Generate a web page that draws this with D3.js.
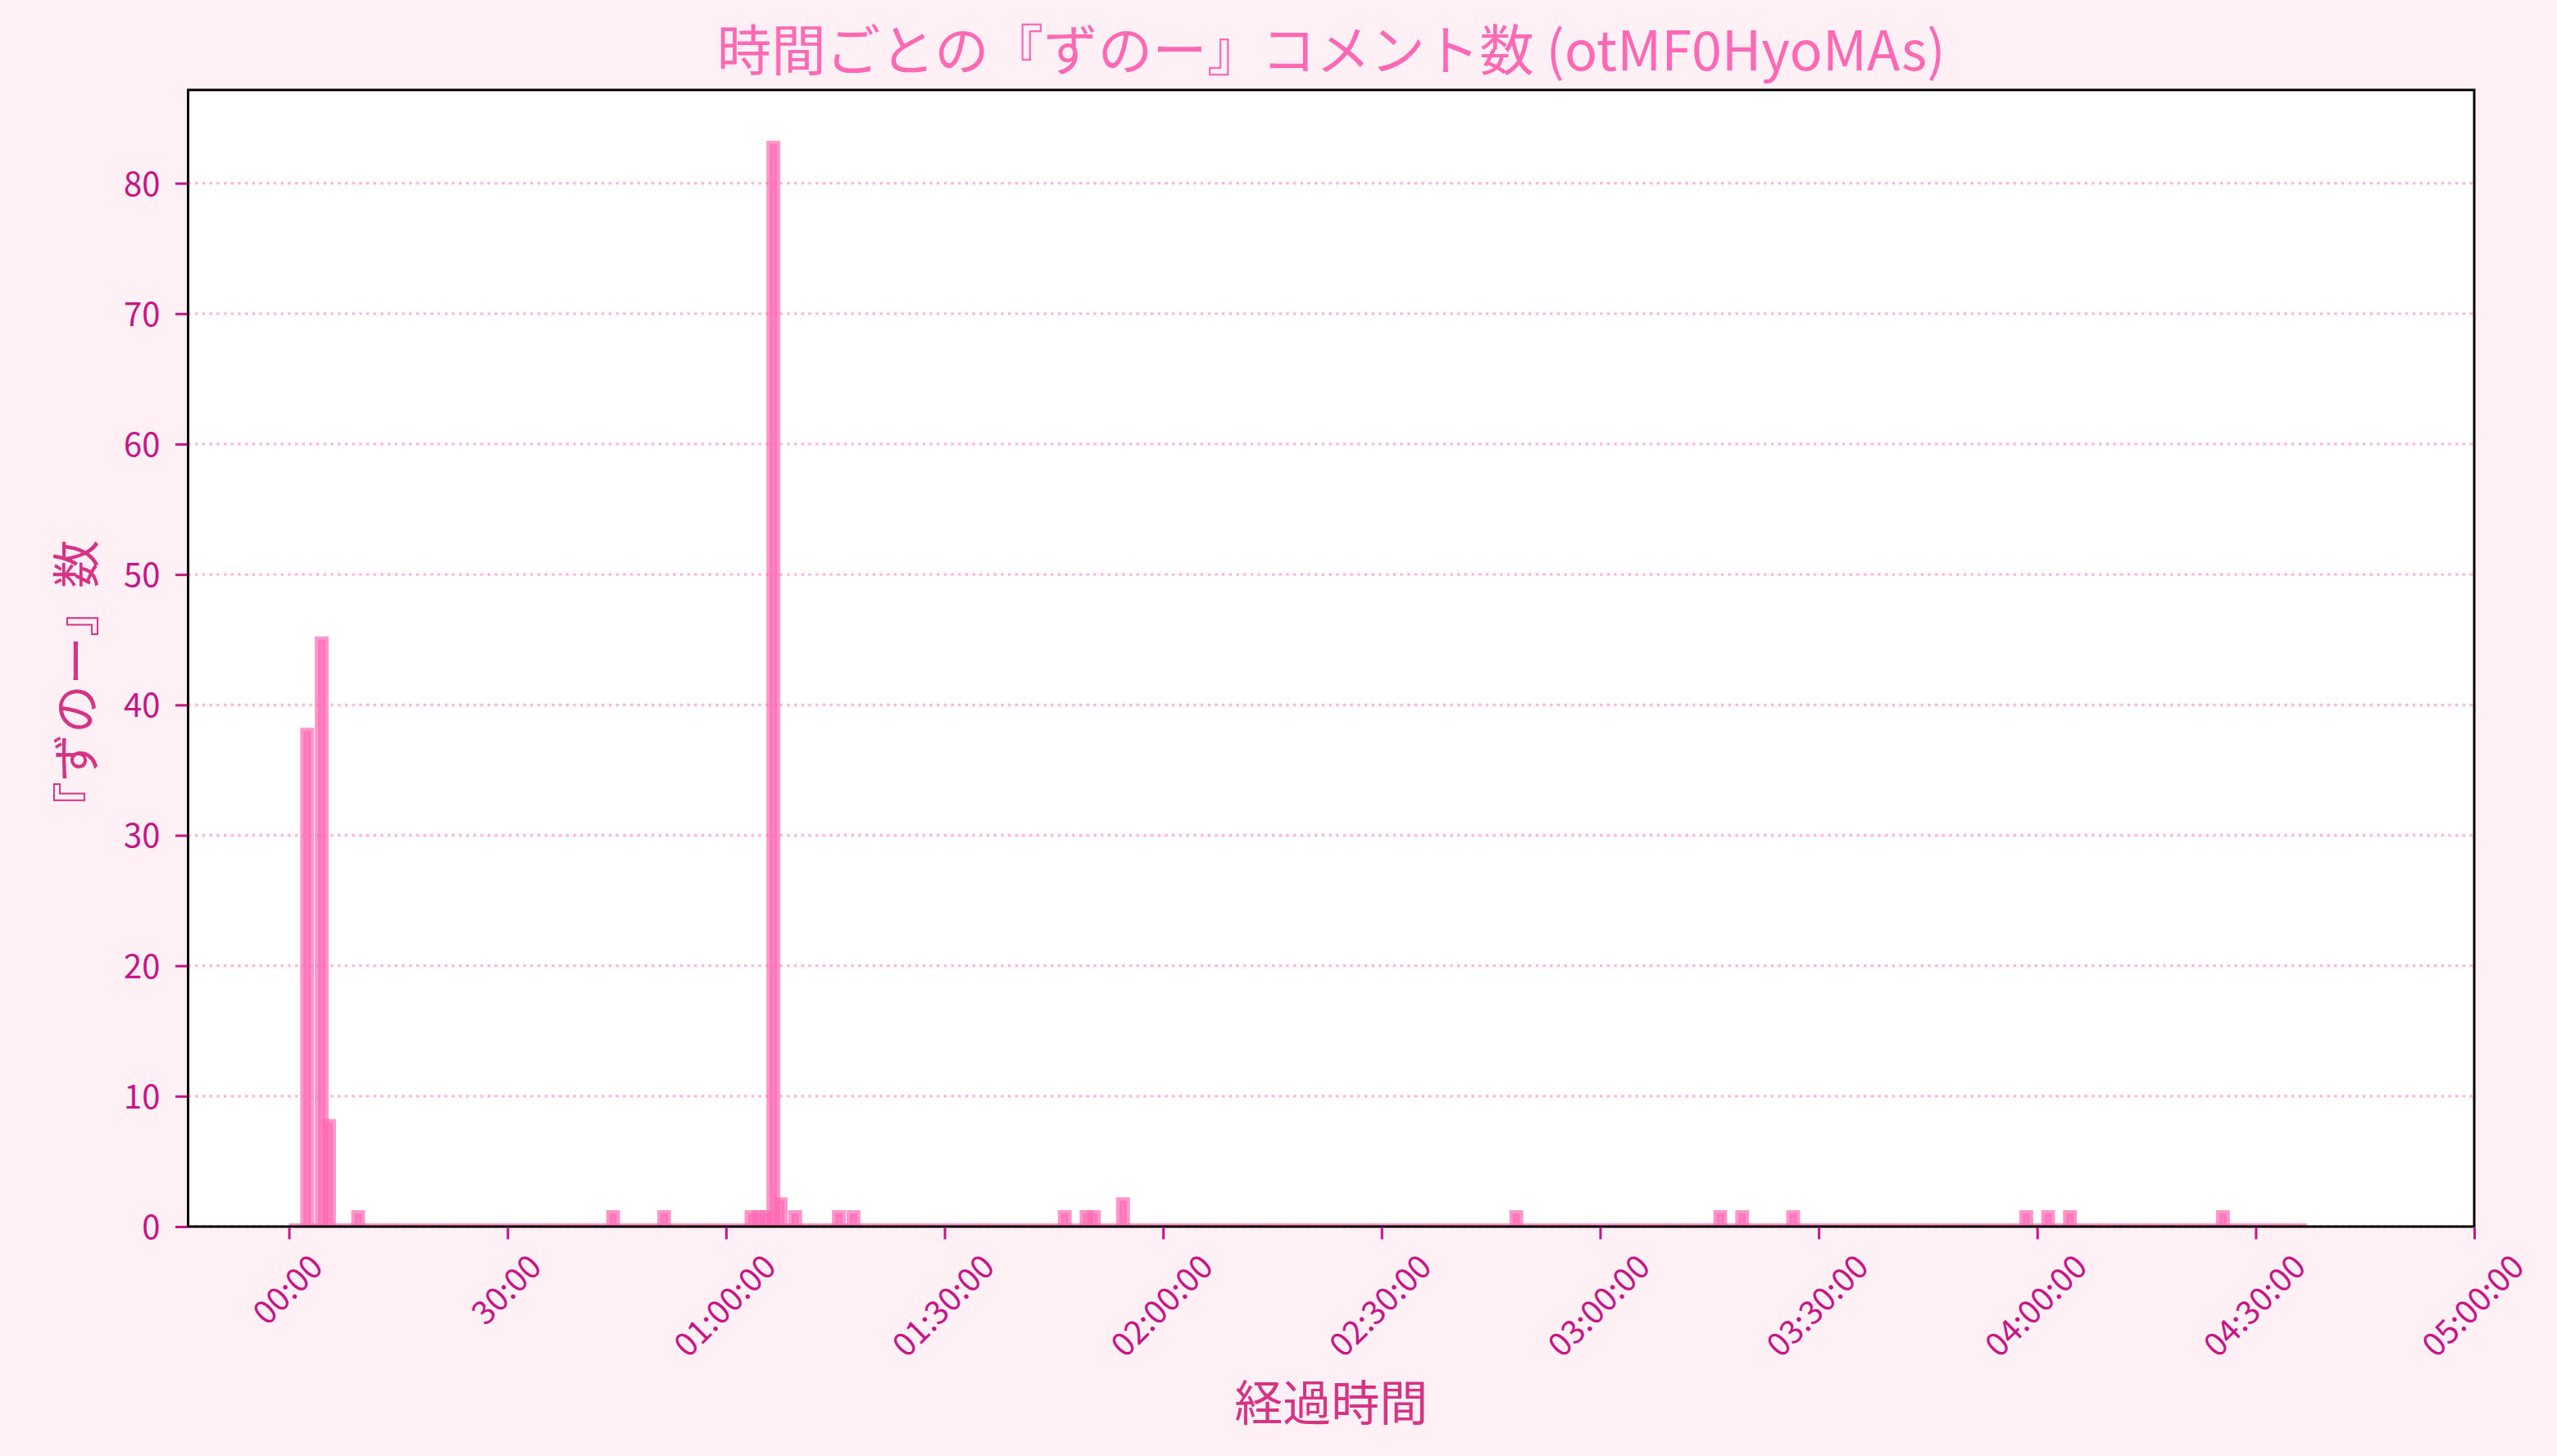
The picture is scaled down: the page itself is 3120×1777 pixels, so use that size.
<!DOCTYPE html>
<html><head><meta charset="utf-8">
<script src="https://cdn.jsdelivr.net/npm/d3@7"></script>
<style>
html,body{margin:0;padding:0;background:#FFF0F5;}
svg{display:block;}
</style>
</head><body>
<script>
// ---- data ----
const titleText = "時間ごとの『ずのー』コメント数 (otMF0HyoMAs)";
const xLabelText = "経過時間";
const yLabelText = "『ずのー』数";
// one bin per elapsed minute; bins not listed here have a count of 0
const activeMinutes = [2, 4, 5, 9, 44, 51, 63, 64, 65, 66, 67, 69, 75, 77, 106, 109, 110, 114, 168, 196, 199, 206, 238, 241, 244, 265];
const activeCounts  = [38, 45, 8, 1, 1, 1, 1, 1, 1, 83, 2, 1, 1, 1, 1, 1, 1, 2, 1, 1, 1, 1, 1, 1, 1, 1];
const firstMinute = 0;
const lastMinute = 276;
const xTickMinutes = [0, 30, 60, 90, 120, 150, 180, 210, 240, 270, 300];
const xTickLabels = ["00:00", "30:00", "01:00:00", "01:30:00", "02:00:00", "02:30:00", "03:00:00", "03:30:00", "04:00:00", "04:30:00", "05:00:00"];
const yTicks = [0, 10, 20, 30, 40, 50, 60, 70, 80];

// ---- layout ----
const W = 3120, H = 1777;
const L = 229.5, R = 3019, T = 109.8, B = 1497;
const FONT = "'Noto Sans CJK JP','Noto Sans',sans-serif";
const pink = "#FF69B4", tickColor = "#C71585", labelColor = "#D63384";

const countByMinute = new Map(activeMinutes.map((m, i) => [m, activeCounts[i]]));
const bins = d3.range(firstMinute, lastMinute + 1).map(m => ({m, c: countByMinute.get(m) || 0}));

const x = d3.scaleLinear().domain([-13.85, 300]).range([L, R]);
const y = d3.scaleLinear().domain([0, 87.15]).range([B, T]);

const svg = d3.select("body").append("svg").attr("width", W).attr("height", H);
svg.append("rect").attr("width", W).attr("height", H).attr("fill", "#FFF0F5");
svg.append("rect").attr("x", L).attr("y", T).attr("width", R - L).attr("height", B - T).attr("fill", "#ffffff");

svg.append("defs").append("clipPath").attr("id", "plotclip")
  .append("rect").attr("x", L).attr("y", T).attr("width", R - L).attr("height", B - T);

// grid
svg.append("g").selectAll("line").data(yTicks).join("line")
  .attr("x1", L).attr("x2", R)
  .attr("y1", d => y(d)).attr("y2", d => y(d))
  .attr("stroke", pink).attr("stroke-opacity", 0.5)
  .attr("stroke-width", 3.3).attr("stroke-dasharray", "3.3,5.4");

// bars (paths so that zero-height bins still show their edge stroke)
svg.append("g").attr("clip-path", "url(#plotclip)")
  .selectAll("path").data(bins).join("path")
  .attr("d", d => {
    const x0 = x(d.m), x1 = x(d.m + 1), y0 = y(0), y1 = y(d.c);
    return `M${x0},${y0}L${x1},${y0}L${x1},${y1}L${x0},${y1}Z`;
  })
  .attr("fill", pink).attr("fill-opacity", 0.7)
  .attr("stroke", pink).attr("stroke-opacity", 0.7)
  .attr("stroke-width", 8).attr("stroke-linejoin", "miter");

// spines
svg.append("rect").attr("x", L).attr("y", T).attr("width", R - L).attr("height", B - T)
  .attr("fill", "none").attr("stroke", "#000").attr("stroke-width", 3);

// x axis
const xAxis = d3.axisBottom(x).tickValues(xTickMinutes)
  .tickFormat((d, i) => xTickLabels[i]).tickSize(14);
const gx = svg.append("g").attr("transform", `translate(0,${B + 1.5})`).call(xAxis);
gx.select(".domain").remove();
gx.selectAll(".tick line").attr("stroke", tickColor).attr("stroke-width", 3);
const fsTick = 40;
gx.selectAll(".tick text")
  .attr("fill", tickColor).style("font-family", FONT).style("font-size", fsTick + "px")
  .attr("text-anchor", "middle").attr("dominant-baseline", "central")
  .attr("dy", null).attr("y", null)
  .each(function() {
    const w = this.getComputedTextLength();
    const h = fsTick * 1.0;
    const side = (w + h) * Math.SQRT1_2;
    const cy = 24 + side / 2;
    d3.select(this).attr("transform", `translate(-4,${cy}) rotate(-45)`);
  });

// y axis
const yAxis = d3.axisLeft(y).tickValues(yTicks).tickSize(14).tickPadding(18.5);
const gy = svg.append("g").attr("transform", `translate(${L - 1.5},0)`).call(yAxis);
gy.select(".domain").remove();
gy.selectAll(".tick line").attr("stroke", tickColor).attr("stroke-width", 3);
gy.selectAll(".tick text").attr("fill", tickColor)
  .style("font-family", FONT).style("font-size", fsTick + "px").attr("dy", "0.36em");

// title and axis labels
svg.append("text").attr("x", (L + R) / 2).attr("y", 86)
  .attr("text-anchor", "middle").attr("fill", pink)
  .style("font-family", FONT).style("font-size", "66.5px").text(titleText);
svg.append("text").attr("x", (L + R) / 2).attr("y", 1734)
  .attr("text-anchor", "middle").attr("fill", labelColor)
  .style("font-family", FONT).style("font-size", "59px").text(xLabelText);
svg.append("text").attr("transform", "translate(89,836) rotate(-90)")
  .attr("text-anchor", "middle").attr("dominant-baseline", "central").attr("fill", labelColor)
  .style("font-family", FONT).style("font-size", "59px").text(yLabelText);
</script>
</body></html>
